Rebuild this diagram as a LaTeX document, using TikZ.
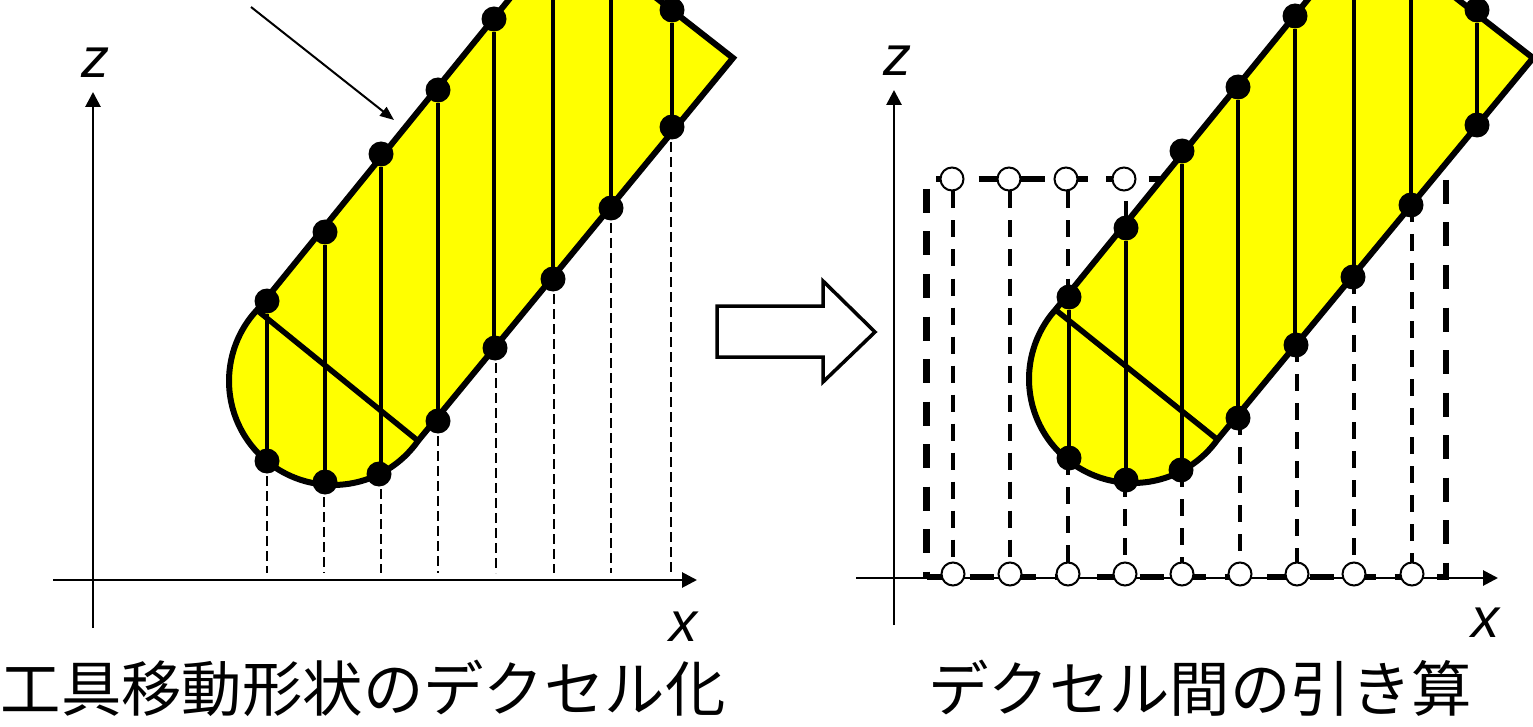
\documentclass[tikz,border=0pt]{standalone}
\usepackage{fontspec}
\setmainfont{Liberation Sans}
\newfontfamily\cjk{Noto Sans CJK JP}
\usetikzlibrary{arrows.meta}
\definecolor{bodyyellow}{RGB}{255,255,0}
\tikzset{
  bdot/.style={circle,fill=black,draw=none,minimum size=25pt,inner sep=0pt},
  wdot/.style={circle,fill=white,draw=black,line width=2pt,minimum size=23pt,inner sep=0pt},
  body/.style={fill=bodyyellow,draw=black,line width=6pt,line join=miter},
  slice/.style={line width=4.5pt},
  chord/.style={line width=5.5pt},
  axis/.style={line width=2.8pt,-{Triangle[length=15pt,width=15pt]}},
  thindash/.style={line width=1.7pt,dash pattern=on 10pt off 5pt},
  meddash/.style={line width=4pt,dash pattern=on 17pt off 12pt},
  thickdash/.style={line width=6.5pt,dash pattern=on 24pt off 18.5pt},
  axlabel/.style={font=\fontsize{56}{56}\selectfont\itshape,inner sep=0pt},
  caption/.style={font=\fontsize{60.4}{60.4}\selectfont\cjk,inner sep=0pt},
}
\begin{document}
\begin{tikzpicture}[x=1pt,y=-1pt]
\useasboundingbox (0,0) rectangle (1533,727);
\clip (0,0) rectangle (1533,727);

% ---------- left panel ----------
\coordinate (zlo) at (93,628);
\coordinate (zhi) at (93,92);
\coordinate (xlo) at (53,580);
\coordinate (xhi) at (697,580);
\draw[axis] (zlo) -- (zhi);
\draw[axis] (xlo) -- (xhi);
\node[axlabel] (zl) at (95,63) {z};
\node[axlabel] (xl) at (683,627) {x};

\draw[body] plot[smooth,samples=50,domain=223:35] ({333+104*cos(\x)},{381+104*sin(\x)})
  -- (733,58) -- (567,-72) -- cycle;
\coordinate (Lc1) at (258,311);
\coordinate (Lc2) at (417,440);
\draw[chord] (Lc1) -- (Lc2);

\node[bdot] (a1) at (267,301) {};
\node[bdot] (a2) at (325,232) {};
\node[bdot] (a3) at (381,154) {};
\node[bdot] (a4) at (438,90) {};
\node[bdot] (a5) at (494,19) {};
\coordinate (a6) at (553,-54);
\coordinate (a7) at (611,-38);
\node[bdot] (a8) at (672,10) {};
\node[bdot] (b1) at (267,461) {};
\node[bdot] (b2) at (325,482) {};
\node[bdot] (b3) at (379,474) {};
\node[bdot] (b4) at (438,421) {};
\node[bdot] (b5) at (495,348) {};
\node[bdot] (b6) at (553,279) {};
\node[bdot] (b7) at (611,208) {};
\node[bdot] (b8) at (672,127) {};
\foreach \i in {1,...,8}{\draw[slice] (a\i) -- (a\i |- b\i);}

\coordinate (c1) at (267,573);
\coordinate (c2) at (324,573);
\coordinate (c3) at (381,573);
\coordinate (c4) at (438,573);
\coordinate (c5) at (496,573);
\coordinate (c6) at (554,573);
\coordinate (c7) at (611,573);
\coordinate (c8) at (671,573);
\foreach \i in {1,...,8}{\draw[thindash] (c\i |- b\i) -- (c\i);}

\coordinate (p1) at (251,7);
\coordinate (p2) at (394,120);
\draw[line width=2pt,-{Triangle[length=14pt,width=11pt]}] (p1) -- (p2);

% ---------- block arrow ----------
\draw[fill=white,draw=black,line width=3.5pt,miter limit=10]
  (717,306) -- (823,306) -- (823,281) -- (875,332) -- (823,382) -- (823,357) -- (717,357) -- cycle;

% ---------- right panel ----------
\coordinate (Zlo) at (894,625);
\coordinate (Zhi) at (894,90);
\coordinate (Xlo) at (856,578);
\coordinate (Xhi) at (1498,578);
\draw[axis] (Zlo) -- (Zhi);
\draw[axis] (Xlo) -- (Xhi);
\node[axlabel] (Zl) at (897,61) {z};
\node[axlabel] (Xl) at (1485,623) {x};

% dashed rectangle
\coordinate (R1) at (936,179);
\coordinate (R2) at (1170,179);
\coordinate (R3) at (926.5,189);
\coordinate (R4) at (926.5,577);
\coordinate (R5) at (927,577);
\coordinate (R6) at (1449,577);
\coordinate (R7) at (1446,180);
\coordinate (R8) at (1446,578);
\draw[thickdash] (R1) -- (R2);
\draw[thickdash] (R3) -- (R4);
\draw[thickdash] (R5) -- (R6);
\draw[thickdash] (R7) -- (R8);

% open circles
\node[wdot] (t1) at (952,179) {};
\node[wdot] (t2) at (1009,179) {};
\node[wdot] (t3) at (1066,179) {};
\node[wdot] (t4) at (1124,179) {};
\node[wdot] (u1) at (953,574) {};
\node[wdot] (u2) at (1010,574) {};
\node[wdot] (u3) at (1068,574) {};
\node[wdot] (u4) at (1125,574) {};
\node[wdot] (u5) at (1182,574) {};
\node[wdot] (u6) at (1240,574) {};
\node[wdot] (u7) at (1297,574) {};
\node[wdot] (u8) at (1354,574) {};
\node[wdot] (u9) at (1412,574) {};

% upper dashed parts (behind the body)
\draw[meddash] (u1 |- t1.south) -- (u1);
\draw[meddash] (u2 |- t2.south) -- (u2);
\draw[meddash] (u3 |- t3.south) -- (1068,300);
\draw[meddash] (1126,201) -- (1126,228);

\draw[body] plot[smooth,samples=50,domain=222:35.6] ({1133+104*cos(\x)},{379+104*sin(\x)})
  -- (1533,58) -- (1366,-72) -- cycle;
\coordinate (Rc1) at (1057,311);
\coordinate (Rc2) at (1218,440);
\draw[chord] (Rc1) -- (Rc2);

\node[bdot] (d1) at (1069,297) {};
\node[bdot] (d2) at (1126,228) {};
\node[bdot] (d3) at (1182,151) {};
\node[bdot] (d4) at (1238,87) {};
\node[bdot] (d5) at (1295,16) {};
\coordinate (d6) at (1354,-54);
\coordinate (d7) at (1411,-38);
\node[bdot] (d8) at (1477,10) {};
\node[bdot] (e1) at (1069,458) {};
\node[bdot] (e2) at (1126,480) {};
\node[bdot] (e3) at (1181,470) {};
\node[bdot] (e4) at (1238,418) {};
\node[bdot] (e5) at (1296,345) {};
\node[bdot] (e6) at (1353,277) {};
\node[bdot] (e7) at (1411,205) {};
\node[bdot] (e8) at (1477,125) {};
\foreach \i in {1,...,8}{\draw[slice] (d\i) -- (d\i |- e\i);}

\draw[meddash] (u3 |- e1) -- (u3);
\draw[meddash] (u4 |- e2) -- (u4);
\draw[meddash] (u5 |- e3) -- (u5);
\draw[meddash] (u6 |- e4) -- (u6);
\draw[meddash] (u7 |- e5) -- (u7);
\draw[meddash] (u8 |- e6) -- (u8);
\draw[meddash] (u9 |- e7) -- (u9);

% ---------- captions ----------
\node[caption] (cap1) at (363,688) {工具移動形状のデクセル化};
\node[caption] (cap2) at (1200,688) {デクセル間の引き算};
\end{tikzpicture}
\end{document}
